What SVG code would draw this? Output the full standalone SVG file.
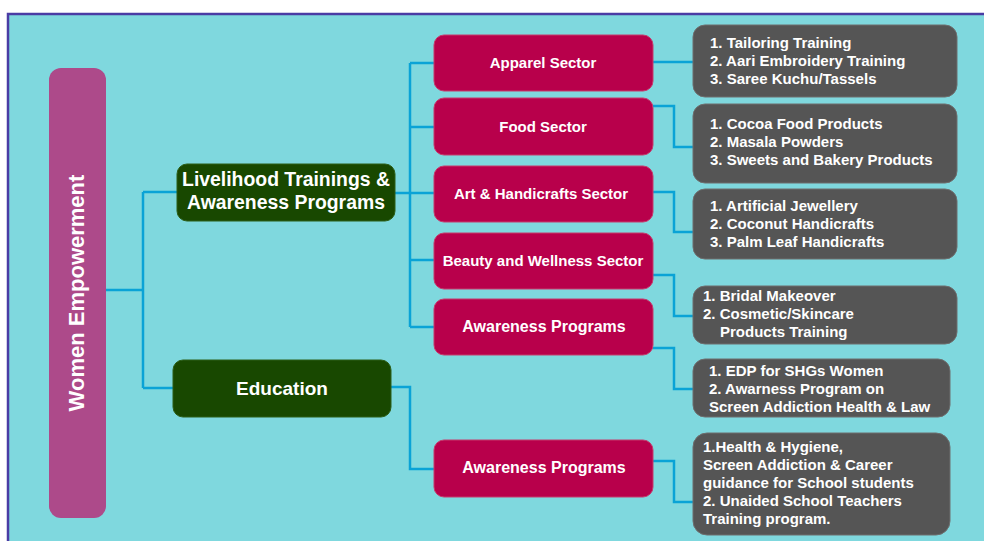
<svg xmlns="http://www.w3.org/2000/svg" width="984" height="541" viewBox="0 0 984 541">
<style>
text{font-family:"Liberation Sans",Arial,sans-serif;font-weight:bold;fill:#ffffff}
.c{fill:none;stroke:#0aa3d6;stroke-width:2.5}
.pink{fill:#b8004b;stroke:#c63a6c;stroke-width:1}
.grey{fill:#555555;stroke:#6e6e6e;stroke-width:1}
.green{fill:#184800;stroke:#2d5e18;stroke-width:1}
.pt{font-size:15px;text-anchor:middle}
.pt.big{font-size:16px}
.gt{font-size:15px}
</style>
<rect x="0" y="0" width="984" height="541" fill="#ffffff"/>
<rect x="8" y="14" width="990" height="540" fill="#7fd8de" stroke="#4a3ca4" stroke-width="2.5"/>
<g id="connectors">
<path class="c" d="M106 290H143M143 192V388M143 192H177M143 388H173"/>
<path class="c" d="M395 193H410M410 63V327M410 63H434M410 127H434M410 193H434M410 260H434M410 327H434"/>
<path class="c" d="M391 387H410V469H434"/>
<path class="c" d="M653 62H693"/>
<path class="c" d="M653 106H674V147H693"/>
<path class="c" d="M653 192H674V232H693"/>
<path class="c" d="M653 275H674V316H693"/>
<path class="c" d="M653 348H674V389H693"/>
<path class="c" d="M653 461H674V502H693"/>
</g>
<g id="root">
<rect x="49" y="68" width="57" height="450" rx="12" fill="#ad4a8a"/>
<text transform="translate(84,293) rotate(-90)" font-size="22" text-anchor="middle">Women Empowerment</text>
</g>
<g id="livelihood">
<rect class="green" x="177" y="164" width="218" height="57" rx="10"/>
<text x="286" y="186" font-size="19.4" text-anchor="middle">Livelihood Trainings &amp;</text>
<text x="286" y="209" font-size="19.4" text-anchor="middle">Awareness Programs</text>
</g>
<g id="education">
<rect class="green" x="173" y="360" width="218" height="57" rx="10"/>
<text x="282" y="395" font-size="19" text-anchor="middle">Education</text>
</g>
<g id="apparel">
<rect class="pink" x="434" y="35" width="219" height="56" rx="10"/>
<text class="pt" x="543" y="68">Apparel Sector</text>
</g>
<g id="food">
<rect class="pink" x="434" y="98" width="219" height="57" rx="10"/>
<text class="pt" x="543" y="132">Food Sector</text>
</g>
<g id="art">
<rect class="pink" x="434" y="166" width="219" height="56" rx="10"/>
<text class="pt" x="541" y="199">Art &amp; Handicrafts Sector</text>
</g>
<g id="beauty">
<rect class="pink" x="434" y="233" width="219" height="56" rx="10"/>
<text class="pt" x="543" y="266">Beauty and Wellness Sector</text>
</g>
<g id="awareness1">
<rect class="pink" x="434" y="299" width="219" height="56" rx="10"/>
<text class="pt big" x="544" y="332">Awareness Programs</text>
</g>
<g id="awareness2">
<rect class="pink" x="434" y="440" width="219" height="57" rx="10"/>
<text class="pt big" x="544" y="473">Awareness Programs</text>
</g>
<g id="apparel-items">
<rect class="grey" x="693" y="25" width="264" height="72" rx="12"/>
<text class="gt" x="710" y="48">1. Tailoring Training</text>
<text class="gt" x="710" y="66">2. Aari Embroidery Training</text>
<text class="gt" x="710" y="84">3. Saree Kuchu/Tassels</text>
</g>
<g id="food-items">
<rect class="grey" x="693" y="104" width="264" height="79" rx="12"/>
<text class="gt" x="710" y="129">1. Cocoa Food Products</text>
<text class="gt" x="710" y="147">2. Masala Powders</text>
<text class="gt" x="710" y="165">3. Sweets and Bakery Products</text>
</g>
<g id="art-items">
<rect class="grey" x="693" y="189" width="264" height="70" rx="12"/>
<text class="gt" x="710" y="211">1. Artificial Jewellery</text>
<text class="gt" x="710" y="229">2. Coconut Handicrafts</text>
<text class="gt" x="710" y="247">3. Palm Leaf Handicrafts</text>
</g>
<g id="beauty-items">
<rect class="grey" x="693" y="286" width="264" height="58" rx="12"/>
<text class="gt" x="703" y="301">1. Bridal Makeover</text>
<text class="gt" x="703" y="319">2. Cosmetic/Skincare</text>
<text class="gt" x="720" y="337">Products Training</text>
</g>
<g id="awareness1-items">
<rect class="grey" x="693" y="359" width="257" height="58" rx="12"/>
<text class="gt" x="709" y="376">1. EDP for SHGs Women</text>
<text class="gt" x="709" y="394">2. Awarness Program on</text>
<text class="gt" x="709" y="412">Screen Addiction Health &amp; Law</text>
</g>
<g id="awareness2-items">
<rect class="grey" x="693" y="433" width="257" height="102" rx="14"/>
<text class="gt" x="703" y="452">1.Health &amp; Hygiene,</text>
<text class="gt" x="703" y="470">Screen Addiction &amp; Career</text>
<text class="gt" x="703" y="488">guidance for School students</text>
<text class="gt" x="703" y="506">2. Unaided School Teachers</text>
<text class="gt" x="703" y="524">Training program.</text>
</g>
</svg>
